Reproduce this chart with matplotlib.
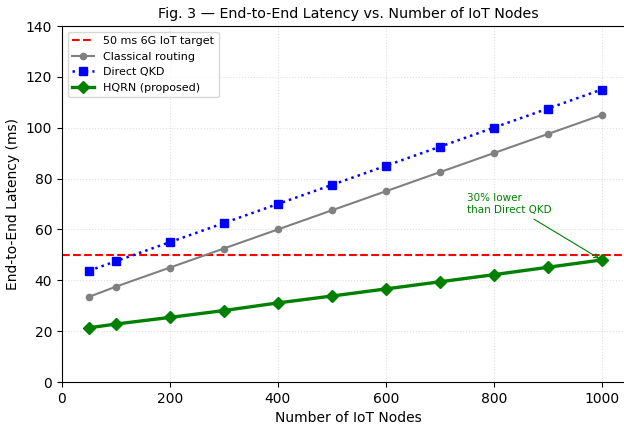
import matplotlib

matplotlib.use("Agg")
import matplotlib.pyplot as plt

nodes = [50, 100, 200, 300, 400, 500, 600, 700, 800, 900, 1000]
classical = [33.5, 37.5, 45.0, 52.5, 60.0, 67.5, 75.0, 82.5, 90.0, 97.5, 105.0]
direct_qkd = [43.75, 47.5, 55.0, 62.5, 70.0, 77.5, 85.0, 92.5, 100.0, 107.5, 115.0]
hqrn = [21.3, 22.8, 25.4, 28.1, 31.1, 33.8, 36.6, 39.4, 42.2, 45.1, 48.0]
target_ms = 50

fig = plt.figure(figsize=(6.24, 4.28), dpi=100)
# axes run slightly past the right edge, as in the cropped original
ax = fig.add_axes([62 / 624, 46 / 428, 572 / 624, 356 / 428])

ax.axhline(target_ms, color="red", linestyle="--", linewidth=1.5,
           label="50 ms 6G IoT target")
ax.plot(nodes, classical, color="gray", marker="o", markersize=4.5,
        linewidth=1.5, label="Classical routing")
ax.plot(nodes, direct_qkd, color="blue", marker="s", markersize=5.5,
        linestyle=":", linewidth=1.8, label="Direct QKD")
ax.plot(nodes, hqrn, color="green", marker="D", markersize=6.5,
        linewidth=2.4, label="HQRN (proposed)")

ax.annotate("30% lower\nthan Direct QKD", xy=(nodes[-1], hqrn[-1]),
            xytext=(750, 66.5), color="green", fontsize=7.5,
            arrowprops=dict(arrowstyle="->", color="green", lw=0.8))

ax.set_xlim(0, 1060)
ax.set_ylim(0, 140)
ax.set_xlabel("Number of IoT Nodes", fontsize=10)
ax.set_ylabel("End-to-End Latency (ms)", fontsize=10)
ax.set_title("Fig. 3 \u2014 End-to-End Latency vs. Number of IoT Nodes", fontsize=10.3)
ax.grid(True, linestyle=":", alpha=0.4)
ax.legend(loc="upper left", fontsize=8)

fig.savefig("out.png", dpi=100)
